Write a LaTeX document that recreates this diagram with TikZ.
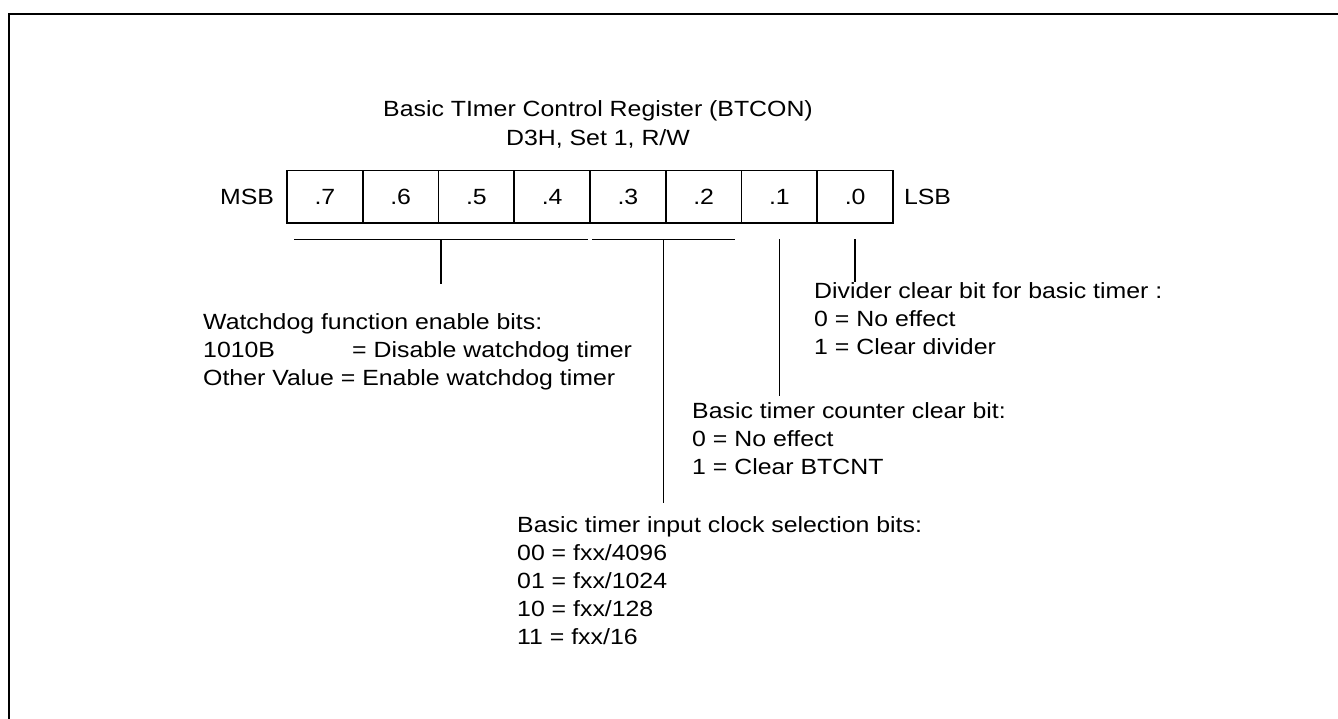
\documentclass[tikz,border=0pt]{standalone}
\usepackage{fontspec}
\setmainfont{Liberation Sans}[FakeStretch=1.13]
\usetikzlibrary{calc,positioning}

\tikzset{
  bitcell/.style={draw, line width=1.6pt, minimum width=75.75pt, minimum height=52.6pt,
    inner sep=0pt, text height=15.8pt, text depth=0pt},
  desc/.style={anchor=north west, align=left, inner sep=0pt},
  lead/.style={line width=1.4pt},
}

\begin{document}
\begin{tikzpicture}[x=1pt, y=-1pt, font=\fontsize{22}{28}\selectfont]
	\useasboundingbox (0,0) rectangle (1338,719);
	\draw[line width=2.2pt] (9,719) -- (9,14) -- (1338,14);

	% title
	\node[anchor=base, inner sep=0pt] (title) at (598, 116.7) {Basic TImer Control Register (BTCON)};
	\node[anchor=base, inner sep=0pt] (addr) at (598, 145.7) {D3H, Set 1, R/W};

	% register cells, .7 on the left
	\foreach \b [count=\k from 0] in {7,6,...,0}
		\node[bitcell] (b\b) at ({287+75.75*\k+37.875}, 197) {.\b};
	\node[anchor=east, inner sep=0pt, text height=15.8pt, text depth=0pt] (msb) at ($(b7.west)+(-12,0)$) {MSB};
	\node[anchor=west, inner sep=0pt, text height=15.8pt, text depth=0pt] (lsb) at ($(b0.east)+(10,0)$) {LSB};

	% brackets under the cells
	\coordinate (wdl) at ($(b7.south west)+(8,15.5)$);
	\coordinate (wdr) at ($(b4.south east)+(-3,15.5)$);
	\coordinate (clkl) at ($(b3.south west)+(3,15.5)$);
	\coordinate (clkr) at ($(b2.south east)+(-7,15.5)$);
	\draw[lead] (wdl) -- (wdr);
	\draw[lead] (clkl) -- (clkr);
	\coordinate (wdm) at ($(wdl)!0.5!(wdr)$);
	\coordinate (clkm) at ($(clkl)!0.5!(clkr)$);
	\coordinate (cntm) at ($(b1.south)+(0,15)$);
	\coordinate (divm) at ($(b0.south)+(0,15)$);

	% descriptions
	\node[desc] (wdtext) at (203, 313.5) {Watchdog function enable bits:\\
		\makebox[149pt][l]{1010B}= Disable watchdog timer\\
		Other Value = Enable watchdog timer};
	\node[desc] (divtext) at (814, 282.5) {Divider clear bit for basic timer :\\
		0 = No effect\\
		1 = Clear divider};
	\node[desc] (cnttext) at (692, 402.5) {Basic timer counter clear bit:\\
		0 = No effect\\
		1 = Clear BTCNT};
	\node[desc] (clktext) at (517, 516) {Basic timer input clock selection bits:\\
		00 = fxx/4096\\
		01 = fxx/1024\\
		10 = fxx/128\\
		11 = fxx/16};

	\coordinate (wdend) at (wdm |- 0, 284);
	\coordinate (clkend) at (clkm |- 0, 503);
	\coordinate (cntend) at (cntm |- 0, 396);
	\coordinate (divend) at (divm |- divtext.north);
	\draw[lead] (wdm) -- (wdend);
	\draw[lead] (clkm) -- (clkend);
	\draw[lead] (cntm) -- (cntend);
	\draw[lead] (divm) -- (divend);
\end{tikzpicture}
\end{document}
